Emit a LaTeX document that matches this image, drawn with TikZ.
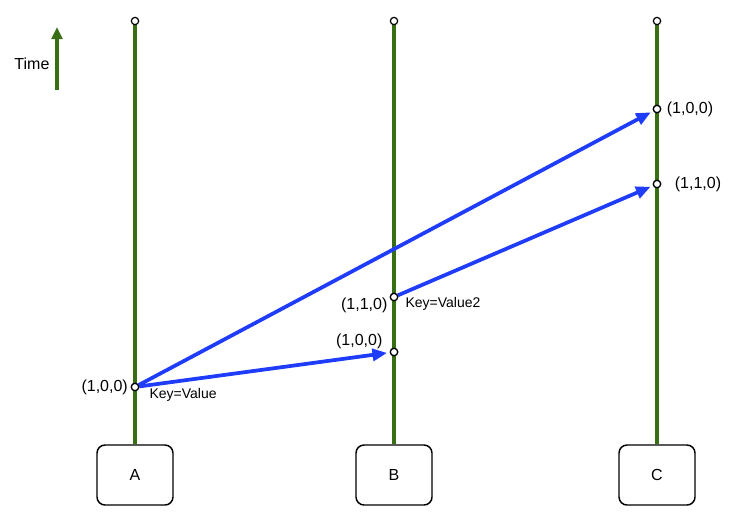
\documentclass[tikz,border=0pt]{standalone}
\usepackage{fontspec}
\setmainfont{Liberation Sans}
\usetikzlibrary{positioning,arrows.meta}
\definecolor{lifegreen}{RGB}{56,110,20}
\definecolor{msgblue}{RGB}{30,60,250}
\tikzset{
  lifeline/.style={line width=3pt, draw=lifegreen},
  event/.style={circle, draw=black, fill=white, line width=0.9pt, inner sep=0pt, minimum size=5.5pt},
  procbox/.style={draw, rounded corners=6pt, line width=1.1pt, minimum width=57pt, minimum height=45pt, font=\fontsize{12}{14}\selectfont},
  msg/.style={line width=2.8pt, draw=msgblue, -{Triangle[length=11pt,width=9pt]}, shorten >=2pt},
  vlabel/.style={font=\fontsize{12}{14}\selectfont, inner sep=1pt},
  keylabel/.style={font=\fontsize{10.5}{12}\selectfont, inner sep=1pt}
}
\begin{document}
\begin{tikzpicture}[x=0.75pt,y=-0.75pt]
  \useasboundingbox (0,0) rectangle (732,519);
  % processes
  \node[procbox] (A) at (135,475) {A};
  \node[procbox] (B) at (394,475) {B};
  \node[procbox] (C) at (657,475) {C};
  \foreach \p/\x in {A/135,B/394,C/657}
    \coordinate (\p top) at (\x,21);
  \foreach \p in {A,B,C}
    \draw[lifeline] (\p.north) -- (\p top);
  \foreach \p in {A,B,C}
    \node[event] at (\p top) {};
  % events
  \node[event] (a1) at (135,387) {};
  \node[event] (b1) at (394,352) {};
  \node[event] (b2) at (394,297) {};
  \node[event] (c1) at (657,109) {};
  \node[event] (c2) at (657,184) {};
  % messages
  \draw[msg] (a1) -- (b1);
  \draw[msg] (a1) -- (c1);
  \draw[msg] (b2) -- (c2);
  \foreach \e in {a1,b1,b2,c1,c2}
    \node[event] at (\e) {};
  % labels
  \node[vlabel, left=1pt of a1] {(1,0,0)};
  \node[keylabel, anchor=west] at (148,395) {Key=Value};
  \node[vlabel, anchor=south east] at (384,350) {(1,0,0)};
  \node[vlabel, anchor=east] at (389,305) {(1,1,0)};
  \node[keylabel, anchor=west] at (404,304) {Key=Value2};
  \node[vlabel, right=3pt of c1] {(1,0,0)};
  \node[vlabel, right=9pt of c2] {(1,1,0)};
  % time
  \coordinate (t0) at (57,90);
  \coordinate (t1) at (57,27);
  \draw[lifeline, -{Triangle[length=9pt,width=8pt]}] (t0) -- (t1);
  \node[vlabel, anchor=east] at (51,64) {Time};
\end{tikzpicture}
\end{document}
